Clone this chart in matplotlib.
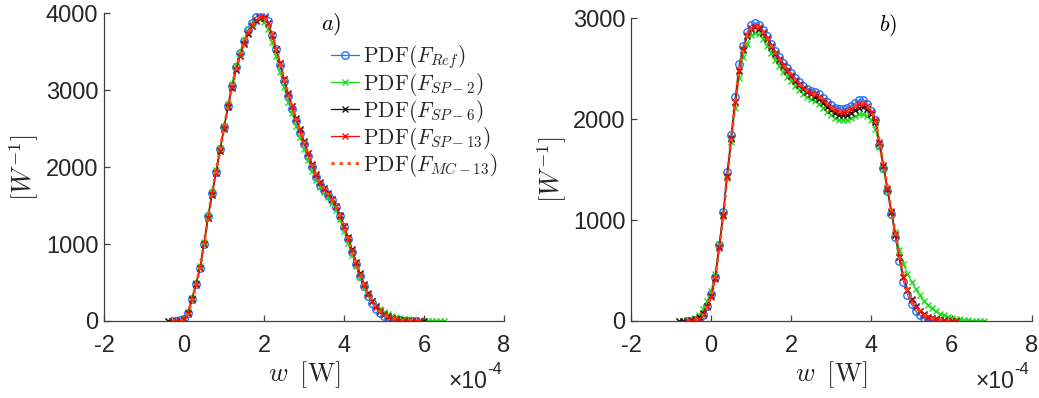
import numpy as np
import matplotlib
matplotlib.use("Agg")
import matplotlib.pyplot as plt

plt.rcParams['mathtext.fontset'] = 'cm'
plt.rcParams['axes.unicode_minus'] = False
plt.rcParams['font.family'] = ['Liberation Sans', 'DejaVu Sans']

# ---------------- data (w in units of 1e-4 W, PDF in W^-1) ----------------
# panel a) : (start, end) of each series' w grid, values step 0.1
range_ref_a = (-0.3, 5.8)
pdf_ref_a = [0, 3, 8, 25, 110, 290, 480, 690, 1000, 1360, 1670, 1940, 2230, 2520,
             2800, 3060, 3300, 3480, 3640, 3780, 3880, 3950, 3990, 3985, 3900, 3720,
             3530, 3330, 3120, 2920, 2760, 2600, 2450, 2300, 2150, 2000, 1870, 1770,
             1700, 1640, 1570, 1480, 1360, 1220, 1060, 900, 740, 590, 450, 330, 235,
             160, 105, 70, 46, 30, 18, 10, 5, 2, 1, 0]
range_sp2_a = (-0.4, 6.5)
pdf_sp2_a = [0, 2, 6, 14, 35, 120, 300, 500, 720, 1030, 1370, 1680, 1960, 2250, 2540,
             2820, 3080, 3310, 3490, 3650, 3770, 3860, 3910, 3925, 3890, 3800, 3630,
             3440, 3240, 3040, 2850, 2700, 2540, 2390, 2240, 2090, 1950, 1830, 1740,
             1680, 1610, 1540, 1440, 1320, 1170, 1010, 860, 710, 570, 445, 340, 260,
             195, 150, 115, 88, 67, 52, 40, 30, 22, 16, 11, 7, 5, 3, 2, 1, 0, 0]
range_sp6_a = (-0.4, 6.0)
pdf_sp6_a = [0, 1, 3, 8, 22, 100, 280, 475, 690, 1000, 1335, 1640, 1920, 2210, 2500,
             2780, 3030, 3260, 3440, 3600, 3730, 3830, 3900, 3940, 3945, 3880, 3720,
             3540, 3350, 3150, 2960, 2800, 2640, 2490, 2340, 2190, 2040, 1910, 1810,
             1730, 1660, 1590, 1500, 1380, 1240, 1090, 930, 770, 620, 480, 360, 265,
             190, 135, 95, 65, 44, 29, 18, 11, 6, 3, 2, 1, 0]
range_sp13_a = (-0.3, 5.9)
pdf_sp13_a = [0, 2, 6, 20, 95, 270, 470, 690, 1000, 1340, 1650, 1930, 2220, 2510,
              2790, 3040, 3270, 3450, 3610, 3740, 3840, 3910, 3950, 3950, 3880, 3720,
              3540, 3350, 3150, 2950, 2790, 2630, 2480, 2330, 2180, 2030, 1900, 1800,
              1720, 1650, 1580, 1490, 1370, 1230, 1080, 920, 760, 610, 470, 350, 255,
              180, 125, 85, 58, 38, 24, 14, 8, 4, 2, 1, 0]
range_mc13_a = (-0.3, 5.9)
pdf_mc13_a = [0, 2, 6, 20, 95, 270, 470, 690, 1000, 1340, 1650, 1930, 2220, 2510,
              2790, 3040, 3270, 3450, 3610, 3740, 3840, 3910, 3950, 3950, 3880, 3720,
              3540, 3350, 3150, 2950, 2790, 2630, 2480, 2330, 2180, 2030, 1900, 1800,
              1720, 1650, 1580, 1490, 1370, 1230, 1080, 920, 760, 610, 470, 350, 255,
              180, 125, 85, 58, 38, 24, 14, 8, 4, 2, 1, 0]

# panel b)
range_ref_b = (-0.6, 5.7)
pdf_ref_b = [0, 2, 6, 20, 60, 150, 265, 440, 750, 1077, 1480, 1840, 2220, 2550, 2730,
             2860, 2930, 2950, 2930, 2880, 2820, 2750, 2680, 2620, 2560, 2510, 2460,
             2410, 2370, 2330, 2300, 2280, 2265, 2245, 2210, 2170, 2140, 2115, 2100,
             2100, 2110, 2130, 2160, 2190, 2195, 2150, 2080, 1990, 1740, 1520, 1290,
             1060, 830, 590, 390, 260, 165, 100, 58, 32, 16, 7, 2, 0]
range_sp2_b = (-0.8, 6.8)
pdf_sp2_b = [0, 2, 5, 10, 25, 60, 120, 200, 300, 470, 760, 1060, 1420, 1770, 2110,
             2410, 2620, 2750, 2830, 2850, 2840, 2790, 2730, 2660, 2590, 2530, 2470,
             2420, 2380, 2330, 2290, 2250, 2220, 2200, 2180, 2150, 2110, 2070, 2040,
             2010, 1995, 1990, 1995, 2010, 2030, 2050, 2050, 2030, 1990, 1900, 1720,
             1510, 1290, 1070, 880, 700, 560, 470, 390, 320, 255, 200, 160, 125, 95,
             72, 55, 42, 30, 22, 15, 10, 6, 4, 2, 1, 0]
range_sp6_b = (-0.8, 6.1)
pdf_sp6_b = [0, 1, 3, 6, 15, 35, 75, 150, 250, 430, 730, 1050, 1440, 1810, 2170, 2480,
             2690, 2820, 2890, 2910, 2895, 2850, 2790, 2720, 2650, 2590, 2530, 2480,
             2430, 2380, 2340, 2300, 2270, 2245, 2225, 2200, 2165, 2125, 2090, 2060,
             2045, 2040, 2045, 2065, 2090, 2115, 2125, 2100, 2050, 1970, 1760, 1540,
             1310, 1080, 850, 630, 440, 310, 215, 145, 100, 66, 43, 28, 18, 11, 6, 3,
             1, 0]
range_sp13_b = (-0.6, 6.1)
pdf_sp13_b = [0, 3, 8, 22, 60, 140, 240, 420, 720, 1040, 1430, 1800, 2170, 2490, 2700,
              2830, 2900, 2925, 2910, 2860, 2800, 2730, 2660, 2600, 2540, 2490, 2440,
              2390, 2350, 2310, 2280, 2260, 2245, 2225, 2190, 2150, 2115, 2090, 2075,
              2075, 2085, 2105, 2130, 2155, 2160, 2130, 2070, 1990, 1770, 1550, 1320,
              1090, 860, 630, 440, 310, 210, 140, 95, 62, 40, 26, 16, 10, 6, 3, 1, 0]
range_mc13_b = (-0.6, 6.1)
pdf_mc13_b = [0, 3, 8, 22, 60, 140, 240, 420, 720, 1040, 1430, 1800, 2170, 2490, 2700,
              2830, 2900, 2925, 2910, 2860, 2800, 2730, 2660, 2600, 2540, 2490, 2440,
              2390, 2350, 2310, 2280, 2260, 2245, 2225, 2190, 2150, 2115, 2090, 2075,
              2075, 2085, 2105, 2130, 2155, 2160, 2130, 2070, 1990, 1770, 1550, 1320,
              1090, 860, 630, 440, 310, 210, 140, 95, 62, 40, 26, 16, 10, 6, 3, 1, 0]

labels = [r'$\mathrm{PDF}(F_{Ref})$', r'$\mathrm{PDF}(F_{SP-2})$',
          r'$\mathrm{PDF}(F_{SP-6})$', r'$\mathrm{PDF}(F_{SP-13})$',
          r'$\mathrm{PDF}(F_{MC-13})$']
xticks = [-2, 0, 2, 4, 6, 8]
yticks_a = [0, 1000, 2000, 3000, 4000]
yticks_b = [0, 1000, 2000, 3000]

# ---------------- styling ----------------
C_BLUE = '#1f74ff'
C_GREEN = '#1edc1e'
C_BLACK = '#111111'
C_RED = '#ff0a0a'
C_MC = '#ff4a10'
AX_COL = '#404040'
TXT_COL = '#262626'

fig = plt.figure(figsize=(10.39, 3.98), dpi=100)
ax1 = fig.add_axes([0.1001, 0.1935, 0.3850, 0.7731])
ax2 = fig.add_axes([0.6073, 0.1935, 0.3857, 0.7605])


def grid(rng, vals):
    return np.linspace(rng[0], rng[1], len(vals))


def draw(ax, series, ylim, yticks):
    handles = []
    (r0, v0), (r1, v1), (r2, v2), (r3, v3), (r4, v4) = series
    h, = ax.plot(grid(r0, v0), v0, '-', color=C_BLUE, lw=0.9, marker='o', ms=5.4,
                 mfc='none', mec=C_BLUE, mew=1.0)
    handles.append(h)
    h, = ax.plot(grid(r1, v1), v1, '-', color=C_GREEN, lw=0.9, marker='x', ms=4.8,
                 mec=C_GREEN, mew=1.0)
    handles.append(h)
    h, = ax.plot(grid(r2, v2), v2, '-', color=C_BLACK, lw=0.9, marker='x', ms=4.8,
                 mec=C_BLACK, mew=1.0)
    handles.append(h)
    h, = ax.plot(grid(r3, v3), v3, '-', color=C_RED, lw=0.9, marker='x', ms=4.8,
                 mec=C_RED, mew=1.0)
    handles.append(h)
    h, = ax.plot(grid(r4, v4), v4, ':', color=C_MC, lw=2.2)
    handles.append(h)

    ax.set_xlim(-2, 8)
    ax.set_ylim(*ylim)
    ax.set_xticks(xticks)
    ax.set_yticks(yticks)
    ax.set_xticklabels([str(t) for t in xticks])
    ax.set_yticklabels([str(t) for t in yticks])
    for s in ['top', 'right']:
        ax.spines[s].set_visible(False)
    for s in ['left', 'bottom']:
        ax.spines[s].set_color(AX_COL)
        ax.spines[s].set_linewidth(0.9)
    ax.tick_params(direction='in', length=4, width=0.9, color=AX_COL,
                   labelsize=17, labelcolor=TXT_COL)
    ax.tick_params(axis='x', pad=10)
    ax.tick_params(axis='y', pad=4)
    ax.set_xlabel(r'$w\;\;\mathrm{[W]}$', fontsize=19, color=TXT_COL)
    ax.set_ylabel(r'$[W^{-1}]$', fontsize=19, color=TXT_COL)
    ax.xaxis.label.set_va('center')
    ax.yaxis.label.set_va('center')
    return handles


hs = draw(ax1, [(range_ref_a, pdf_ref_a), (range_sp2_a, pdf_sp2_a),
                (range_sp6_a, pdf_sp6_a), (range_sp13_a, pdf_sp13_a),
                (range_mc13_a, pdf_mc13_a)], (0, 4000), yticks_a)
draw(ax2, [(range_ref_b, pdf_ref_b), (range_sp2_b, pdf_sp2_b),
           (range_sp6_b, pdf_sp6_b), (range_sp13_b, pdf_sp13_b),
           (range_mc13_b, pdf_mc13_b)], (0, 3000), yticks_b)

ax1.xaxis.set_label_coords(0.5, -0.175)
ax2.xaxis.set_label_coords(0.5, -0.178)
ax1.yaxis.set_label_coords(-0.20, 0.5)
ax2.yaxis.set_label_coords(-0.197, 0.5)

# "x10^-4" multipliers (figure pixel positions)
for x_split in (487, 1014):
    fig.text(x_split / 1039, 1 - 381 / 398, '\u00d710', ha='right', va='center',
             fontsize=16.5, color=TXT_COL)
    fig.text(x_split / 1039, 1 - 369 / 398, '-4', ha='left', va='center',
             fontsize=12, color=TXT_COL)

fig.text(331 / 1039, 1 - 24 / 398, r'$a)$', ha='center', va='center',
         fontsize=16, color='black')
fig.text(888 / 1039, 1 - 25 / 398, r'$b)$', ha='center', va='center',
         fontsize=16, color='black')

leg = ax1.legend(hs, labels, loc='upper left',
                 bbox_to_anchor=(331 / 1039, 1 - 43 / 398),
                 bbox_transform=fig.transFigure, frameon=False, fontsize=15.5,
                 handlelength=1.3, handletextpad=0.2, borderpad=0,
                 borderaxespad=0, labelspacing=0.0)
for t in leg.get_texts():
    t.set_color(TXT_COL)

fig.savefig('out.png', dpi=100)
